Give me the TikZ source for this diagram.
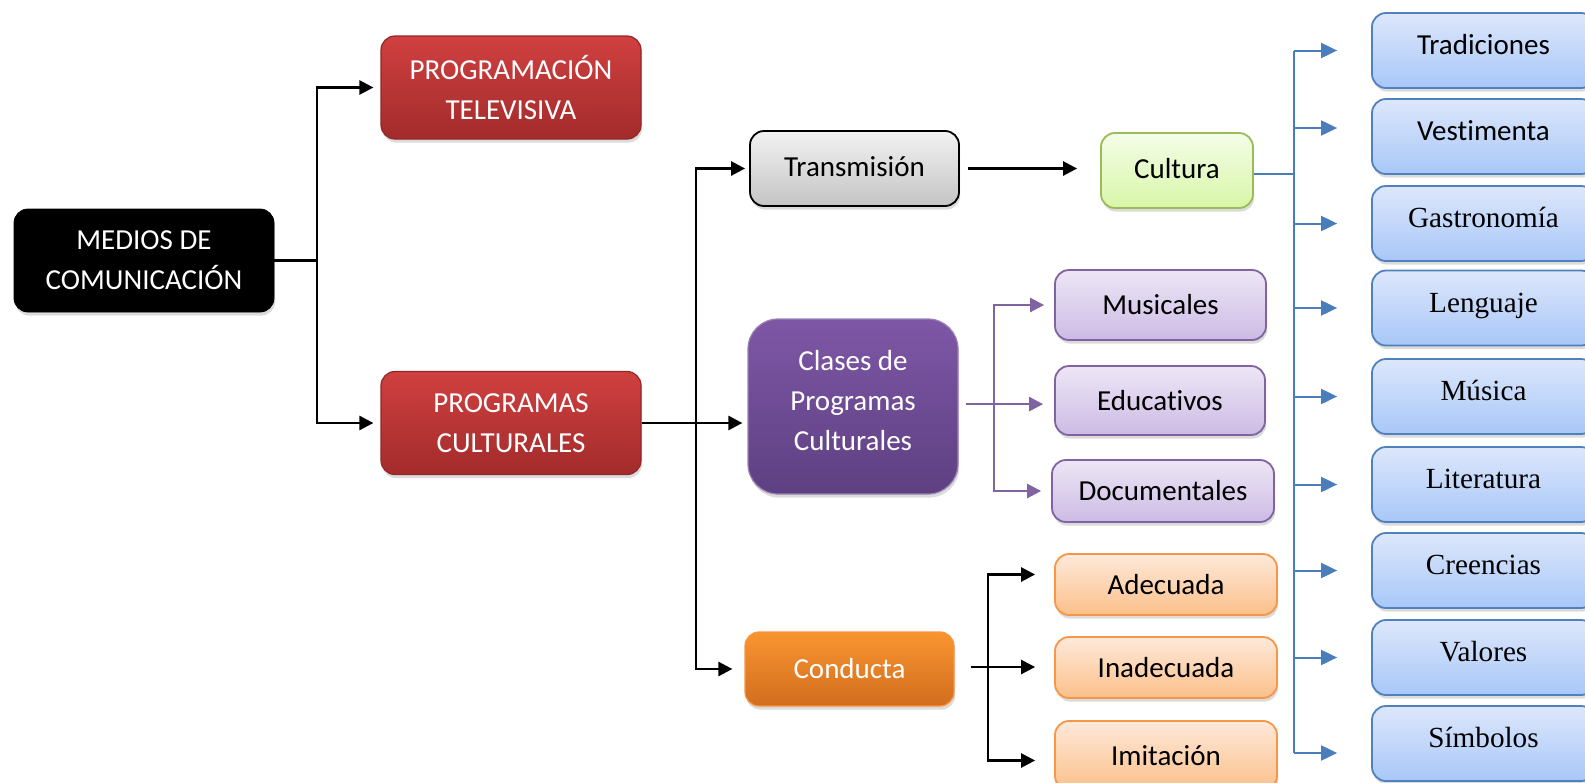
\documentclass[tikz,border=0pt]{standalone}
\usepackage{fontspec}
\setmainfont{Carlito}[Ligatures=NoCommon]
\newfontfamily\tnr{Liberation Serif}
\usetikzlibrary{arrows.meta,shadows}
\definecolor{redT}{HTML}{D04040}
\definecolor{redB}{HTML}{A32B2B}
\definecolor{grayT}{HTML}{F2F2F2}
\definecolor{grayB}{HTML}{C4C4C4}
\definecolor{grnT}{HTML}{F4FDE8}
\definecolor{grnB}{HTML}{D8F6A8}
\definecolor{grnD}{HTML}{9BBB59}
\definecolor{purT}{HTML}{7E57A6}
\definecolor{purB}{HTML}{5E4082}
\definecolor{purD}{HTML}{8064A2}
\definecolor{lilT}{HTML}{EDE6F5}
\definecolor{lilB}{HTML}{CCBBE5}
\definecolor{oraT}{HTML}{F9952F}
\definecolor{oraB}{HTML}{D16D1E}
\definecolor{oraD}{HTML}{F79646}
\definecolor{peaT}{HTML}{FEE9DA}
\definecolor{peaB}{HTML}{FBC08A}
\definecolor{bluT}{HTML}{DDE7FB}
\definecolor{bluB}{HTML}{A8C7F8}
\definecolor{bluD}{HTML}{4F81BD}
\definecolor{bluL}{HTML}{4A7EBB}
\begin{document}
\begin{tikzpicture}[x=0.5pt,y=-0.5pt,
  box/.style={rounded corners=7pt, align=center, inner sep=2pt,
    font=\fontsize{14.5}{20}\selectfont,
    drop shadow={shadow xshift=0.6pt,shadow yshift=-1.8pt,opacity=0.28}},
  redbox/.style={box, top color=redT, bottom color=redB, draw=redB!90!black, line width=0.6pt, text=white,
    minimum width=130pt, minimum height=51.5pt},
  blkbox/.style={box, fill=black, draw=black, text=white, minimum width=130pt, minimum height=51.5pt},
  graybox/.style={box, top color=grayT, bottom color=grayB, draw=black, line width=0.9pt, text=black},
  grnbox/.style={box, top color=grnT, bottom color=grnB, draw=grnD, line width=0.9pt, text=black},
  purbox/.style={box, rounded corners=15pt, top color=purT, bottom color=purB, draw=purD!80!white, line width=0.6pt, text=white},
  lilbox/.style={box, top color=lilT, bottom color=lilB, draw=purD, line width=0.9pt, text=black},
  orabox/.style={box, top color=oraT, bottom color=oraB, draw=oraD, line width=0.6pt, text=white},
  peabox/.style={box, top color=peaT, bottom color=peaB, draw=oraD, line width=0.9pt, text=black},
  blubox/.style={box, top color=bluT, bottom color=bluB, draw=bluD, line width=0.9pt, text=black,
    minimum width=111.5pt, minimum height=37.5pt, text height=10pt, text depth=6pt},
  raised/.style={text height=10pt, text depth=2.5pt},
  serif/.style={font=\tnr\fontsize{14.6}{18}\selectfont},
  karr/.style={line width=1.3pt, draw=black, -{Triangle[length=7pt,width=7pt]}},
  kline/.style={line width=1.3pt, draw=black},
  parr/.style={line width=1.3pt, draw=purD, -{Triangle[length=7pt,width=7pt]}},
  pline/.style={line width=1.3pt, draw=purD},
  barr/.style={line width=1pt, draw=bluL, -{Triangle[length=8pt,width=7.5pt]}},
  bline/.style={line width=1pt, draw=bluL}
]
\useasboundingbox (0,0) rectangle (1585,782);
\clip (0,0) rectangle (1585,782);
\fill[white] (0,0) rectangle (1585,782);

% nodes
\node[blkbox] (medios) at (144,260.5) {MEDIOS DE\\COMUNICACIÓN};
\node[redbox] (progtv) at (511,87.5) {PROGRAMACIÓN\\TELEVISIVA};
\node[redbox] (progcul) at (511,423) {PROGRAMAS\\CULTURALES};
\node[graybox, raised, minimum width=104.5pt, minimum height=37.5pt] (trans) at (854.5,168.5) {Transmisión};
\node[grnbox, raised, minimum width=76pt, minimum height=37.5pt] (cultura) at (1177,170.5) {Cultura};
\node[purbox, minimum width=105pt, minimum height=87.5pt] (clases) at (853,406.5) {Clases de\\Programas\\Culturales\rule[-6pt]{0pt}{6pt}};
\node[lilbox, minimum width=105.5pt, minimum height=35pt] (music) at (1160.5,305) {Musicales};
\node[lilbox, minimum width=105pt, minimum height=34.5pt] (educ) at (1160,400.5) {Educativos};
\node[lilbox, minimum width=111pt, minimum height=31pt] (docu) at (1163,491) {Documentales};
\node[orabox, minimum width=104.5pt, minimum height=37pt] (conducta) at (849.5,669) {Conducta};
\node[peabox, minimum width=111pt, minimum height=30.5pt] (adec) at (1166,584.5) {Adecuada};
\node[peabox, minimum width=111pt, minimum height=30.5pt] (inad) at (1166,667.5) {Inadecuada};
\node[peabox, minimum width=111pt, minimum height=34.5pt] (imit) at (1166,755.5) {Imitación};

\node[blubox] (trad) at (1483.5,50.5) {Tradiciones};
\node[blubox] (vest) at (1483.5,136.5) {Vestimenta};
\node[blubox, serif] (gast) at (1483.5,223.5) {Gastronomía};
\node[blubox, serif] (leng) at (1483.5,308) {Lenguaje};
\node[blubox, serif] (musica) at (1483.5,396.5) {Música};
\node[blubox, serif] (lit) at (1483.5,484.5) {Literatura};
\node[blubox, serif] (cre) at (1483.5,570.5) {Creencias};
\node[blubox, serif] (val) at (1483.5,657.5) {Valores};
\node[blubox, serif] (simb) at (1483.5,743.5) {Símbolos};

% junction coordinates
\coordinate (j1) at (317,0);
\coordinate (j2) at (696,0);
\coordinate (j3) at (994,0);
\coordinate (j4) at (988,0);
\coordinate (j5) at (1294,0);

% MEDIOS branches
\draw[kline] (medios.east) -- (medios.east -| j1);
\draw[karr, shorten >=3.5pt] (medios.east -| j1) |- (progtv.west);
\draw[karr, shorten >=3.5pt] (medios.east -| j1) |- (progcul.west);

% PROGRAMAS CULTURALES branches
\draw[karr, shorten >=2.5pt] (progcul.east) -- (progcul.east -| clases.west);
\draw[karr, shorten >=2pt] (progcul.east -| j2) |- (trans.west);
\draw[karr, shorten >=6pt] (progcul.east -| j2) |- (conducta.west);

% Transmision -> Cultura
\draw[karr, shorten <=4pt, shorten >=11.5pt] (trans.east) -- (trans.east -| cultura.west);

% Clases branches
\draw[parr, shorten <=3.5pt, shorten >=5.5pt] ([yshift=1.2pt]clases.east) -- ([yshift=1.2pt]clases.east -| educ.west);
\draw[parr, shorten >=5pt] ([yshift=1.2pt]clases.east -| j3) |- (music.west);
\draw[parr, shorten >=5pt] ([yshift=1.2pt]clases.east -| j3) |- (docu.west);

% Conducta branches
\draw[karr, shorten <=8pt, shorten >=9.5pt] ([yshift=1pt]conducta.east) -- ([yshift=1pt]conducta.east -| inad.west);
\draw[karr, shorten >=9.5pt] (conducta.east -| j4) |- ([yshift=5pt]adec.west);
\draw[karr, shorten >=9.5pt] (conducta.east -| j4) |- ([yshift=-2.5pt]imit.west);

% Cultura branches
\draw[bline] ([yshift=-1.7pt]cultura.east) -- ([yshift=-1.7pt]cultura.east -| j5);
\draw[bline] (trad.west -| j5) -- ([yshift=-4.75pt]simb.west -| j5);
\foreach \n in {trad,gast,leng,musica,lit,cre,val}{
  \draw[barr, shorten >=17pt] (\n.west -| j5) -- (\n.west);
}
\draw[barr, shorten >=17pt] ([yshift=4.25pt]vest.west -| j5) -- ([yshift=4.25pt]vest.west);
\draw[barr, shorten >=17pt] ([yshift=-4.75pt]simb.west -| j5) -- ([yshift=-4.75pt]simb.west);
\end{tikzpicture}
\end{document}
